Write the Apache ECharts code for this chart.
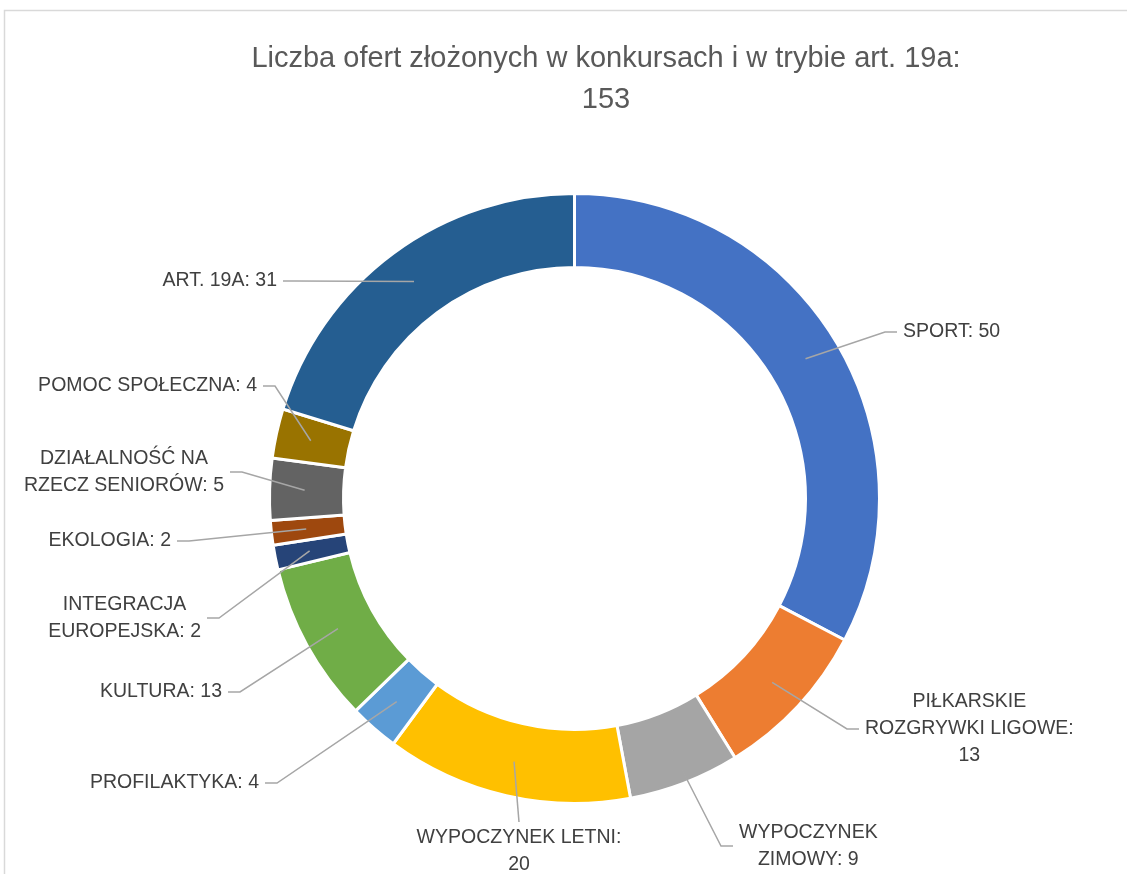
<!DOCTYPE html>
<html>
<head>
<meta charset="utf-8">
<title>Liczba ofert</title>
<script src="https://cdn.jsdelivr.net/npm/echarts@6/dist/echarts.min.js"></script>
<style>
  html, body { margin: 0; padding: 0; background: #fff; }
  #chart { width: 1127px; height: 874px; }
</style>
</head>
<body>
<div id="chart"></div>
<script>
// dane
const categories = [
  'SPORT',
  'PIŁKARSKIE\nROZGRYWKI LIGOWE',
  'WYPOCZYNEK\nZIMOWY',
  'WYPOCZYNEK LETNI',
  'PROFILAKTYKA',
  'KULTURA',
  'INTEGRACJA\nEUROPEJSKA',
  'EKOLOGIA',
  'DZIAŁALNOŚĆ NA\nRZECZ SENIORÓW',
  'POMOC SPOŁECZNA',
  'ART. 19A'
]
const values = [50, 13, 9, 20, 4, 13, 2, 2, 5, 4, 31]
const total = values.reduce((a, b) => a + b, 0)

const palette = ['#4472C4', '#ED7D31', '#A5A5A5', '#FFC000', '#5B9BD5', '#70AD47',
  '#264478', '#9E480E', '#636363', '#997300', '#255E91']

// wartość w nowej linii
const valueOnNewLine = [1, 3]

// gdzie kończy się linia etykiety i po której stronie stoi tekst
const labelAnchors = [
  { x: 897, y: 332, side: 'right' },
  { x: 859, y: 729, side: 'right' },
  { x: 733, y: 846, side: 'right' },
  { x: 519, y: 822, side: 'below' },
  { x: 265, y: 783, side: 'left' },
  { x: 228, y: 692, side: 'left' },
  { x: 207, y: 618, side: 'left' },
  { x: 177, y: 541, side: 'left' },
  { x: 230, y: 472, side: 'left' },
  { x: 263, y: 386, side: 'left' },
  { x: 283, y: 281, side: 'left' }
]

const CX = 574.5
const CY = 498.5
const R_OUT = 305
const R_IN = 231
const R_LINE = 270
const FONT = '"Liberation Sans Narrow", "Arial Narrow", "Liberation Sans", Arial, sans-serif'

const chart = echarts.init(document.getElementById('chart'))

const pieData = categories.map((name, i) => ({ name: name, value: values[i] }))

// etykiety z linią ponad wycinkami
const labelLayout = params => {
  const a = labelAnchors[params.dataIndex]
  const w = params.labelRect.width
  const h = params.labelRect.height
  const p0 = params.labelLinePoints[0]
  const dx = p0[0] - CX
  const dy = p0[1] - CY
  const d = Math.sqrt(dx * dx + dy * dy)
  const start = [CX + dx / d * R_LINE, CY + dy / d * R_LINE]
  let x, y, elbow
  if (a.side === 'right') {
    x = a.x + 6 + w / 2; y = a.y
    elbow = [a.x - 12, a.y]
  } else if (a.side === 'left') {
    x = a.x - 6 - w / 2; y = a.y
    elbow = [a.x + 12, a.y]
  } else {
    x = a.x; y = a.y + 2 + h / 2
    elbow = [a.x, a.y]
  }
  return {
    x: x,
    y: y,
    align: 'center',
    verticalAlign: 'middle',
    labelLinePoints: [start, elbow, [a.x, a.y]]
  }
}

const option = {
  animation: false,
  color: palette,
  title: {
    text: 'Liczba ofert złożonych w konkursach i w trybie art. 19a:\n' + total,
    left: 601,
    top: 33,
    textAlign: 'center',
    textStyle: {
      fontFamily: FONT,
      fontWeight: 'normal',
      fontSize: 29,
      lineHeight: 41,
      color: '#595959'
    }
  },
  graphic: [{
    type: 'rect',
    shape: { x: 4.5, y: 10.5, width: 1300, height: 1000 },
    style: { fill: 'none', stroke: '#d9d9d9', lineWidth: 1.5 },
    silent: true
  }],
  series: [
    {
      type: 'pie',
      z: 2,
      center: [CX, CY],
      radius: [R_IN, R_OUT],
      startAngle: 90,
      clockwise: true,
      itemStyle: { borderColor: '#fff', borderWidth: 3 },
      label: { show: false },
      labelLine: { show: false },
      data: pieData
    },
    {
      type: 'pie',
      z: 3,
      silent: true,
      center: [CX, CY],
      radius: [R_IN, R_OUT],
      startAngle: 90,
      clockwise: true,
      avoidLabelOverlap: false,
      itemStyle: { color: 'rgba(0,0,0,0)', borderWidth: 0 },
      label: {
        show: true,
        position: 'outside',
        fontFamily: FONT,
        fontSize: 19.5,
        lineHeight: 27,
        color: '#404040',
        align: 'center',
        formatter: p => p.name + ':' + (valueOnNewLine.includes(p.dataIndex) ? '\n' : ' ') + p.value
      },
      labelLine: {
        show: true,
        lineStyle: { color: '#a6a6a6', width: 1.5 }
      },
      labelLayout: labelLayout,
      data: pieData
    }
  ]
}

chart.setOption(option)
window.addEventListener('resize', () => chart.resize())
</script>
</body>
</html>
